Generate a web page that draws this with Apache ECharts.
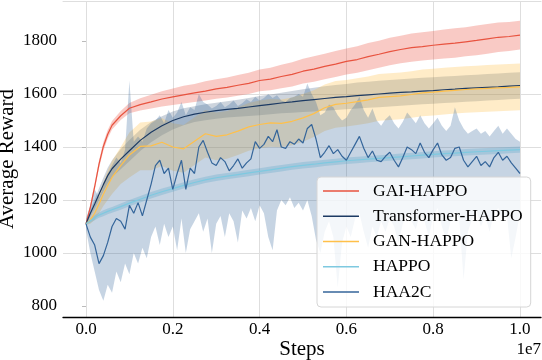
<!DOCTYPE html>
<html><head><meta charset="utf-8">
<script src="https://cdn.jsdelivr.net/npm/echarts@6/dist/echarts.min.js"></script>
<style>html,body{margin:0;padding:0;background:#fff}#c{width:542px;height:360px}</style>
</head><body><div id="c"></div>
<script>
// ---------- data (x in units of 1e7 steps) ----------
const steps = [0,0.01,0.02,0.03,0.04,0.05,0.06,0.08,0.1,0.125,0.15,0.175,0.2,0.225,0.25,0.275,0.3,0.325,0.35,0.375,0.4,0.425,0.45,0.475,0.5,0.525,0.55,0.575,0.6,0.625,0.65,0.675,0.7,0.725,0.75,0.775,0.8,0.825,0.85,0.875,0.9,0.925,0.95,0.975,1.0];

const gaiMean = [1110,1172,1250,1335,1402,1448,1482,1518,1546,1560,1570,1581,1589,1597,1604,1611,1619,1625,1633,1640,1651,1656,1666,1674,1686,1694,1704,1713,1723,1730,1741,1750,1760,1768,1775,1779,1784,1788,1792,1797,1802,1808,1814,1817,1822];
const gaiHigh = [1116,1184,1264,1350,1418,1464,1498,1536,1566,1584,1597,1610,1621,1631,1638,1648,1656,1662,1672,1680,1692,1699,1710,1720,1733,1742,1752,1762,1772,1780,1792,1801,1812,1820,1828,1833,1838,1843,1848,1852,1858,1864,1870,1872,1876];
const gaiLow  = [1104,1162,1238,1320,1386,1432,1466,1502,1527,1538,1545,1553,1558,1564,1570,1575,1582,1587,1593,1600,1610,1614,1622,1628,1640,1646,1656,1664,1674,1680,1690,1699,1708,1716,1722,1726,1730,1734,1737,1742,1746,1752,1758,1762,1768];

const trfMean = [1110,1150,1185,1222,1258,1292,1318,1354,1386,1425,1456,1480,1500,1514,1524,1531,1537,1542,1546,1551,1556,1561,1566,1570,1575,1579,1583,1587,1590,1594,1597,1600,1603,1606,1608,1611,1613,1616,1618,1621,1623,1625,1627,1630,1632];
const trfHigh = [1114,1162,1203,1244,1284,1322,1350,1392,1426,1465,1494,1516,1534,1546,1554,1561,1567,1573,1578,1585,1592,1598,1605,1611,1618,1624,1629,1634,1638,1643,1646,1650,1653,1656,1658,1661,1663,1666,1668,1671,1673,1675,1677,1680,1682];
const trfLow  = [1106,1138,1167,1200,1232,1262,1286,1316,1346,1385,1418,1444,1466,1482,1494,1501,1507,1511,1514,1517,1520,1524,1527,1529,1532,1534,1537,1540,1542,1545,1548,1550,1553,1556,1558,1561,1563,1566,1568,1571,1573,1575,1577,1580,1582];

const ganMean = [1110,1125,1150,1185,1222,1255,1285,1330,1370,1402,1404,1418,1400,1393,1422,1450,1440,1446,1460,1476,1485,1491,1489,1497,1510,1526,1548,1561,1565,1571,1578,1587,1590,1593,1598,1604,1607,1611,1614,1617,1619,1621,1623,1625,1627];
const ganHigh = [1114,1140,1175,1220,1267,1310,1347,1400,1455,1492,1496,1508,1490,1483,1512,1540,1530,1536,1550,1566,1575,1581,1579,1587,1600,1614,1636,1649,1653,1659,1666,1675,1678,1681,1686,1692,1695,1699,1702,1705,1707,1709,1711,1713,1715];
const ganLow  = [1106,1110,1125,1150,1177,1200,1223,1260,1285,1312,1312,1328,1310,1303,1332,1360,1350,1356,1370,1386,1395,1401,1399,1407,1420,1438,1460,1473,1477,1483,1490,1499,1502,1505,1510,1516,1519,1523,1526,1529,1531,1533,1535,1537,1539];

const happoMean = [1110,1122,1133,1143,1150,1157,1163,1175,1188,1203,1218,1231,1243,1255,1266,1276,1284,1290,1296,1302,1308,1314,1320,1326,1331,1335,1340,1344,1348,1351,1354,1357,1360,1363,1366,1369,1372,1375,1377,1380,1382,1384,1386,1388,1390];
const happoHigh = [1114,1130,1142,1153,1161,1168,1174,1187,1200,1215,1230,1243,1255,1267,1278,1288,1296,1302,1308,1314,1320,1326,1332,1338,1343,1347,1352,1356,1360,1363,1366,1369,1372,1375,1378,1381,1384,1387,1389,1392,1394,1396,1398,1400,1402];
const happoLow  = [1106,1114,1124,1133,1139,1146,1152,1163,1176,1191,1206,1219,1231,1243,1254,1264,1272,1278,1284,1290,1296,1302,1308,1314,1319,1323,1328,1332,1336,1339,1342,1345,1348,1351,1354,1357,1360,1363,1365,1368,1370,1372,1374,1376,1378];

const haa2cSteps = [0,0.01,0.02,0.03,0.04,0.05,0.06,0.07,0.08,0.09,0.1,0.11,0.12,0.13,0.14,0.15,0.16,0.17,0.18,0.19,0.2,0.21,0.22,0.23,0.24,0.25,0.26,0.27,0.28,0.29,0.3,0.31,0.32,0.33,0.34,0.35,0.36,0.37,0.38,0.39,0.4,0.41,0.42,0.43,0.44,0.45,0.46,0.47,0.48,0.49,0.5,0.51,0.52,0.53,0.54,0.55,0.56,0.57,0.58,0.59,0.6,0.61,0.62,0.63,0.64,0.65,0.66,0.67,0.68,0.69,0.7,0.71,0.72,0.73,0.74,0.75,0.76,0.77,0.78,0.79,0.8,0.81,0.82,0.83,0.84,0.85,0.86,0.87,0.88,0.89,0.9,0.91,0.92,0.93,0.94,0.95,0.96,0.97,0.98,0.99,1.0];
const haa2cMean = [1110,1060,1030,960,990,1040,1100,1130,1120,1090,1180,1150,1190,1140,1200,1260,1330,1350,1300,1320,1240,1300,1350,1240,1320,1300,1400,1425,1380,1340,1330,1360,1345,1310,1330,1355,1320,1340,1355,1420,1395,1410,1440,1420,1465,1400,1395,1420,1410,1430,1415,1470,1485,1430,1360,1380,1405,1375,1390,1365,1350,1380,1410,1440,1395,1360,1385,1350,1345,1365,1380,1350,1325,1360,1400,1390,1375,1415,1380,1360,1390,1415,1370,1350,1360,1395,1400,1350,1325,1345,1365,1330,1345,1325,1360,1380,1350,1365,1340,1320,1300];
const haa2cHigh = [1130,1180,1240,1210,1250,1300,1330,1360,1340,1390,1650,1420,1440,1420,1470,1490,1500,1520,1490,1540,1510,1530,1570,1520,1550,1540,1600,1570,1560,1545,1555,1570,1550,1560,1575,1555,1565,1580,1570,1590,1575,1585,1600,1585,1595,1575,1570,1585,1590,1600,1590,1640,1600,1570,1520,1530,1560,1550,1520,1500,1510,1540,1560,1590,1540,1510,1545,1500,1480,1505,1520,1490,1470,1495,1530,1510,1490,1520,1490,1470,1490,1510,1480,1460,1480,1550,1500,1470,1450,1460,1470,1450,1460,1440,1460,1480,1450,1470,1450,1430,1420];
const haa2cLow  = [1090,1000,930,860,820,880,850,930,890,960,920,1000,960,1020,980,1060,1100,1030,1110,1060,1100,1010,1130,1000,1090,1120,1150,1080,1130,1000,1110,1140,1060,1150,1120,1040,1160,1130,1170,1120,1180,1150,1060,1010,1160,1200,1180,1210,1170,1190,1160,1200,1140,1050,1000,1080,1120,1060,870,1040,1100,1060,1130,1150,1080,1020,1100,1060,1120,1080,1130,1100,1040,1110,1150,1120,1090,1150,1120,1060,1140,1170,1100,1050,1120,1160,1130,900,1080,1130,1160,1100,1140,1080,1150,1170,1120,1140,980,1060,1150];

const yTicks = [800,1000,1200,1400,1600,1800];
const xTicks = [0,0.2,0.4,0.6,0.8,1.0];
const names = ['GAI-HAPPO','Transformer-HAPPO','GAN-HAPPO','HAPPO','HAA2C'];

// ---------- chart ----------
const FONT = '"Liberation Serif","Times New Roman",serif';
const chart = echarts.init(document.getElementById('c'), null, {renderer:'canvas'});

function band(name, xs, lo, hi, fill) {
  return {
    type:'custom', name: name, coordinateSystem:'cartesian2d', silent:true, animation:false,
    data:[[xs[0], lo[0]]],
    renderItem: function(params, api){
      const pts = [];
      for (let i=0;i<xs.length;i++) pts.push(api.coord([xs[i], hi[i]]));
      for (let i=xs.length-1;i>=0;i--) pts.push(api.coord([xs[i], lo[i]]));
      return {type:'polygon', shape:{points:pts}, style:{fill:fill}};
    }
  };
}
function line(name, xs, ys, color, w){
  return {type:'line', name:name, data: xs.map((x,i)=>[x, ys[i]]), showSymbol:false, symbol:'none',
    color:color, itemStyle:{color:color}, lineStyle:{color:color, width:w}, animation:false, silent:true};
}

const series = [
  band('b0', steps, gaiLow, gaiHigh, 'rgba(236,90,75,0.32)'),
  line(names[0], steps, gaiMean, '#e8533f', 1.2),
  band('b1', steps, trfLow, trfHigh, 'rgba(28,58,99,0.22)'),
  line(names[1], steps, trfMean, '#1c3a63', 1.2),
  band('b2', steps, ganLow, ganHigh, 'rgba(255,192,74,0.3)'),
  line(names[2], steps, ganMean, '#ffc04a', 1.2),
  band('b3', steps, happoLow, happoHigh, 'rgba(126,201,224,0.35)'),
  line(names[3], steps, happoMean, '#7ec9e0', 1.2),
  band('b4', haa2cSteps, haa2cLow, haa2cHigh, 'rgba(52,101,154,0.28)'),
  line(names[4], haa2cSteps, haa2cMean, '#34659a', 1.2)
];

chart.setOption({
  animation:false,
  backgroundColor:'#ffffff',
  grid:{left:63, right:1, top:1, bottom:43, containLabel:false, outerBoundsMode:'none'},
  xAxis:[{
    type:'value', min:-0.053, max:1.0484, minInterval:0.2, maxInterval:0.2,
    axisLine:{show:true, onZero:false, lineStyle:{color:'#000', width:1.3}},
    axisTick:{show:false},
    axisLabel:{customValues:xTicks, formatter:v=>v.toFixed(1), fontFamily:FONT, fontSize:17, color:'#000', margin:4},
    splitLine:{show:true, showMinLine:false, showMaxLine:false, lineStyle:{color:'#dedede', width:1}},
    name:'Steps', nameLocation:'middle', nameGap:22, nameMoveOverlap:false,
    nameTextStyle:{fontFamily:FONT, fontSize:21, color:'#000'}
  },{
    type:'value', position:'top', min:-0.053, max:1.0484,
    axisLine:{show:true, onZero:false, lineStyle:{color:'#dedede', width:1}},
    axisTick:{show:false}, axisLabel:{show:false}, splitLine:{show:false}
  }],
  yAxis:{
    type:'value', min:758.5, max:1950.9, minInterval:200, maxInterval:200,
    axisLine:{show:false},
    axisTick:{show:true, customValues:yTicks, length:4, lineStyle:{color:'#bbbbbb'}},
    axisLabel:{customValues:yTicks, formatter:v=>String(v), fontFamily:FONT, fontSize:17, color:'#000', margin:6},
    splitLine:{show:true, showMinLine:false, showMaxLine:false, lineStyle:{color:'#dedede', width:1}},
    name:'Average Reward', nameLocation:'middle', nameGap:45, nameMoveOverlap:false,
    nameTextStyle:{fontFamily:FONT, fontSize:21, color:'#000'}
  },
  legend:{
    data:names, orient:'vertical', left:317, top:177,
    icon:'rect', itemWidth:36, itemHeight:1.5, itemGap:7.25,
    padding:[5,8,6,6],
    backgroundColor:'rgba(255,255,255,0.8)', borderColor:'#d6d6d6', borderWidth:1, borderRadius:4,
    textStyle:{fontFamily:FONT, fontSize:17.5, color:'#000', lineHeight:18, padding:[0,0,0,9]},
    selectedMode:false
  },
  graphic:[{type:'text', right:1, top:341, style:{text:'1e7', font:'17px "Liberation Serif"', fill:'#000'}}],
  series: series
});
</script></body></html>
